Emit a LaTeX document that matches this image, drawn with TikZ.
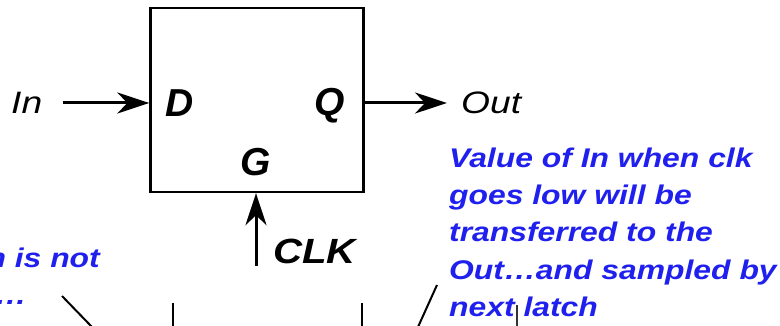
\documentclass[tikz,border=0pt]{standalone}
\usepackage{fontspec}
\setmainfont{Liberation Sans}
\newfontfamily\sigfont[FakeStretch=1.2]{Liberation Sans}
\newfontfamily\clkfont[FakeStretch=1.15]{Liberation Sans}
\newfontfamily\notefont[FakeStretch=1.18]{Liberation Sans}
\usetikzlibrary{arrows.meta}
\definecolor{noteblue}{RGB}{32,32,238}
\tikzset{
  latchbox/.style={draw, line width=2.4pt, minimum width=213pt, minimum height=184pt, inner sep=0pt},
  pinlabel/.style={font=\fontsize{39}{42}\selectfont\bfseries\itshape, inner sep=0pt},
  clklabel/.style={font=\clkfont\fontsize{35}{38}\selectfont\bfseries\itshape, inner sep=0pt},
  siglabel/.style={font=\sigfont\fontsize{31}{33}\selectfont\itshape, inner sep=0pt},
  note/.style={font=\notefont\fontsize{27}{37.3}\selectfont\bfseries\itshape, text=noteblue, inner sep=0pt},
  sigarrow/.style={line width=3pt, -{Stealth[length=32pt, width=21pt, inset=10pt]}},
  wave/.style={line width=2pt}
}
\begin{document}
\begin{tikzpicture}[x=1pt, y=-1pt]
\useasboundingbox (0,0) rectangle (780,326);
\clip (0,0) rectangle (780,326);
% latch box
\node[latchbox] (latch) at (257,100) {};
\node[pinlabel, anchor=base west] (d) at (165,117) {D};
\node[pinlabel, anchor=base west] (q) at (314,116) {Q};
\node[pinlabel, anchor=base] (g) at (256,176) {G};
% signals
\node[siglabel, anchor=base west] (in) at (11,114) {In};
\node[siglabel, anchor=base west] (out) at (461,114) {Out};
\node[clklabel, anchor=base west] (clk) at (273,263) {CLK};
\coordinate (inStart) at (63,103);
\coordinate (outEnd) at (447,103);
\coordinate (clkStart) at (256,266);
\draw[sigarrow] (inStart) -- (inStart -| latch.west);
\draw[sigarrow] (outEnd -| latch.east) -- (outEnd);
\draw[sigarrow] (clkStart) -- (clkStart |- latch.south);
% waveform fragments
\coordinate (w1a) at (62,296); \coordinate (w1b) at (92,327);
\coordinate (w2a) at (173,303); \coordinate (w2b) at (173,327);
\coordinate (w3a) at (362,303); \coordinate (w3b) at (362,327);
\coordinate (w4a) at (437,285); \coordinate (w4b) at (418,327);
\coordinate (w5a) at (517,305); \coordinate (w5b) at (517,327);
\draw[wave] (w1a) -- (w1b);
\draw[wave] (w2a) -- (w2b);
\draw[wave] (w3a) -- (w3b);
\draw[wave] (w4a) -- (w4b);
% notes
\node[note, anchor=base east] (noteL1) at (100,268) {n is not};
\node[note, anchor=base east] (noteL2) at (27,305) {t…};
\node[note, anchor=north west, align=left] (noteR) at (449,147.5)
  {Value of In when clk\\goes low will be\\transferred to the\\Out…and sampled by\\next latch};
\draw[wave, line width=1.6pt, black!80] (w5a) -- (w5b);
\end{tikzpicture}
\end{document}
